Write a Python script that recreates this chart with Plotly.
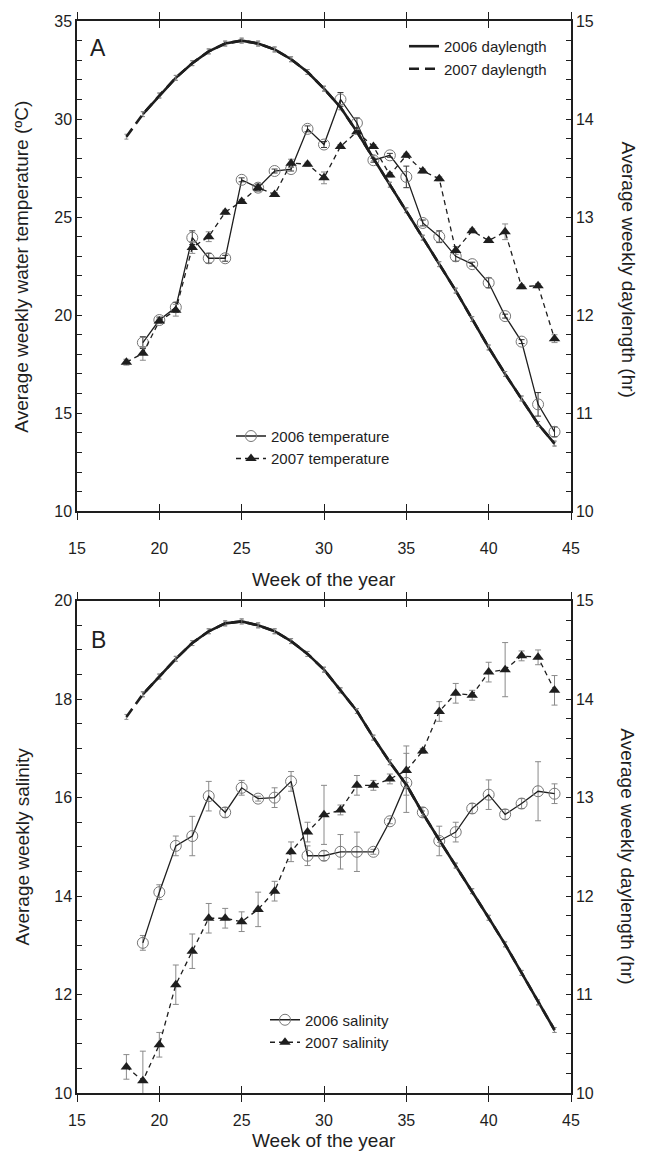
import plotly.graph_objects as go

# ---------------- data ----------------
weeks_2006 = list(range(19, 45))
weeks_2007 = list(range(18, 45))

# Panel A: water temperature (degC)
temp_2006 = [18.6, 19.75, 20.4, 23.95, 22.9, 22.9, 26.9, 26.5, 27.35, 27.45, 29.5, 28.7, 31.0,
             29.8, 27.9, 28.15, 27.05, 24.7, 24.0, 23.0, 22.6, 21.65, 19.95, 18.65, 15.45, 14.05]
temp_2006_err = [0.3, 0.15, 0.25, 0.35, 0.25, 0.15, 0.1, 0.15, 0.1, 0.1, 0.15, 0.15, 0.35,
                 0.25, 0.1, 0.1, 0.55, 0.15, 0.3, 0.25, 0.1, 0.25, 0.1, 0.1, 0.6, 0.25]
temp_2007 = [17.6, 18.05, 19.7, 20.25, 23.45, 24.0, 25.25, 25.8, 26.5, 26.15, 27.75, 27.7, 27.0,
             28.6, 29.35, 28.6, 27.15, 28.15, 27.35, 26.95, 23.3, 24.3, 23.8, 24.25, 21.45, 21.5, 18.8]
temp_2007_err = [0.15, 0.35, 0.1, 0.3, 0.3, 0.25, 0.1, 0.1, 0.2, 0.1, 0.2, 0.1, 0.3,
                 0.1, 0.1, 0.1, 0.1, 0.1, 0.1, 0.1, 0.2, 0.1, 0.1, 0.4, 0.1, 0.1, 0.2]

# Panel A: daylength (hr), weeks 18-44
day_a = [13.82, 14.05, 14.24, 14.42, 14.57, 14.69, 14.77, 14.80, 14.77, 14.71, 14.61, 14.48, 14.31,
         14.12, 13.87, 13.60, 13.33, 13.07, 12.79, 12.52, 12.25, 11.96, 11.67, 11.40, 11.15, 10.89, 10.69]

# Panel B: salinity
sal_2006 = [13.05, 14.08, 15.02, 15.22, 16.03, 15.7, 16.2, 15.98, 16.0, 16.33, 14.82, 14.82, 14.9,
            14.9, 14.9, 15.52, 16.3, 15.7, 15.12, 15.3, 15.78, 16.06, 15.66, 15.88, 16.13, 16.08]
sal_2006_err = [0.15, 0.15, 0.2, 0.4, 0.3, 0.1, 0.15, 0.05, 0.2, 0.2, 0.2, 0.1, 0.35,
                0.4, 0.05, 0.05, 0.6, 0.1, 0.3, 0.2, 0.1, 0.3, 0.1, 0.1, 0.6, 0.2]
sal_2007 = [10.53, 10.25, 10.98, 12.2, 12.88, 13.55, 13.55, 13.48, 13.73, 14.1, 14.9, 15.3, 15.65,
            15.75, 16.25, 16.25, 16.38, 16.55, 16.95, 17.75, 18.12, 18.08, 18.55, 18.6, 18.88, 18.85, 18.18]
sal_2007_err = [0.25, 0.6, 0.25, 0.4, 0.35, 0.3, 0.2, 0.2, 0.35, 0.2, 0.2, 0.2, 0.6,
                0.1, 0.2, 0.1, 0.1, 0.5, 0.05, 0.2, 0.2, 0.1, 0.2, 0.55, 0.1, 0.15, 0.3]

# Panel B: daylength (hr), weeks 18-44
day_b = [13.82, 14.05, 14.23, 14.41, 14.57, 14.69, 14.77, 14.79, 14.75, 14.69, 14.59, 14.46, 14.30,
         14.09, 13.88, 13.61, 13.36, 13.13, 12.84, 12.57, 12.31, 12.05, 11.78, 11.51, 11.22, 10.92, 10.64]
day_err = [0.025] * 27

week_ticks = [15, 20, 25, 30, 35, 40, 45]

# ---------------- styling ----------------
FONT = "Liberation Sans, Arial, sans-serif"
INK = "#1e1e1e"
ERR = "#8a8a8a"

def err(vals, color=ERR, w=3):
    return dict(type="data", array=vals, visible=True, color=color, thickness=1, width=w)

fig = go.Figure()

# ---- Panel A ----
fig.add_trace(go.Scatter(x=weeks_2006, y=day_a[1:], xaxis="x", yaxis="y2", mode="lines",
                         name="2006 daylength", line=dict(color=INK, width=2.6),
                         error_y=err(day_err[1:], w=2), legend="legend"))
fig.add_trace(go.Scatter(x=weeks_2007, y=day_a, xaxis="x", yaxis="y2", mode="lines",
                         name="2007 daylength", line=dict(color=INK, width=2.6, dash="10px,6px"),
                         error_y=err(day_err, w=2), legend="legend"))
fig.add_trace(go.Scatter(x=weeks_2006, y=temp_2006, xaxis="x", yaxis="y", mode="lines+markers",
                         name="2006 temperature", line=dict(color=INK, width=1.3),
                         marker=dict(symbol="circle-open", size=11, color="#777", line=dict(width=1)),
                         error_y=err(temp_2006_err, color="#333", w=3), legend="legend2"))
fig.add_trace(go.Scatter(x=weeks_2007, y=temp_2007, xaxis="x", yaxis="y", mode="lines+markers",
                         name="2007 temperature", line=dict(color=INK, width=1.3, dash="5px,4px"),
                         marker=dict(symbol="triangle-up", size=10, color=INK),
                         error_y=err(temp_2007_err), legend="legend2"))

# ---- Panel B ----
fig.add_trace(go.Scatter(x=weeks_2006, y=day_b[1:], xaxis="x2", yaxis="y4", mode="lines",
                         name="2006 daylength", line=dict(color=INK, width=2.6),
                         error_y=err(day_err[1:], w=2), showlegend=False))
fig.add_trace(go.Scatter(x=weeks_2007, y=day_b, xaxis="x2", yaxis="y4", mode="lines",
                         name="2007 daylength", line=dict(color=INK, width=2.6, dash="10px,6px"),
                         error_y=err(day_err, w=2), showlegend=False))
fig.add_trace(go.Scatter(x=weeks_2006, y=sal_2006, xaxis="x2", yaxis="y3", mode="lines+markers",
                         name="2006 salinity", line=dict(color=INK, width=1.3),
                         marker=dict(symbol="circle-open", size=11, color="#777", line=dict(width=1)),
                         error_y=err(sal_2006_err), legend="legend3"))
fig.add_trace(go.Scatter(x=weeks_2007, y=sal_2007, xaxis="x2", yaxis="y3", mode="lines+markers",
                         name="2007 salinity", line=dict(color=INK, width=1.3, dash="5px,4px"),
                         marker=dict(symbol="triangle-up", size=10, color=INK),
                         error_y=err(sal_2007_err), legend="legend3"))

# Placeholder traces so the overlay x-axes are drawn
fig.add_trace(go.Scatter(x=[None], y=[None], xaxis="x5", yaxis="y", showlegend=False))
fig.add_trace(go.Scatter(x=[None], y=[None], xaxis="x6", yaxis="y3", showlegend=False))

# ---------------- axes ----------------
TICKFONT = dict(family=FONT, size=16, color=INK)
line = dict(showline=True, linecolor=INK, linewidth=1.5, showgrid=False, zeroline=False)

def xax(anchor, overlay=None, standoff=0):
    d = dict(range=[15, 45], tickvals=week_ticks, ticks="inside", ticklen=7, tickwidth=1.3,
             tickcolor=INK, mirror="ticks", anchor=anchor, tickfont=TICKFONT,
             ticklabelstandoff=standoff, **line)
    if overlay:
        d.update(overlaying=overlay, ticks="outside", showticklabels=False)
    return d

def ylax(domain, rng, dtick, minor, anchor):
    return dict(domain=domain, range=rng, dtick=dtick, ticks="inside", ticklen=5, tickwidth=1.2,
                tickcolor=INK, anchor=anchor, tickfont=TICKFONT,
                minor=dict(ticks="inside", ticklen=5, dtick=minor, tickcolor=INK, tickwidth=1),
                **line)

def yrax(overlay, anchor):
    return dict(overlaying=overlay, side="right", range=[10, 15], dtick=1, ticks="inside",
                ticklen=5, tickwidth=1.2, tickcolor=INK, anchor=anchor, tickfont=TICKFONT,
                minor=dict(ticks="inside", ticklen=5, dtick=0.2, tickcolor=INK, tickwidth=1),
                **line)

dom_a = [0.5427, 1.0]
dom_b = [0.0, 0.4592]

def paper_pt(px, py):
    return (px - 77) / 494, (1093 - py) / 1078

LEGFONT = dict(family=FONT, size=15, color=INK)

def legend_at(px, py):
    xp, yp = paper_pt(px, py)
    return dict(x=xp, y=yp, xanchor="left", yanchor="top", bgcolor="rgba(0,0,0,0)",
                font=LEGFONT, tracegroupgap=0)

fig.update_layout(
    width=645, height=1152,
    margin=dict(l=77, r=74, t=15, b=59),
    paper_bgcolor="white", plot_bgcolor="white",
    font=dict(family=FONT, color=INK),
    xaxis=xax("y", standoff=22),
    xaxis5=xax("y", overlay="x"),
    xaxis2=xax("y3", standoff=12),
    xaxis6=xax("y3", overlay="x2"),
    yaxis=ylax(dom_a, [10, 35], 5, 1, "x"),
    yaxis2=yrax("y", "x"),
    yaxis3=ylax(dom_b, [10, 20], 2, 0.5, "x2"),
    yaxis4=yrax("y3", "x2"),
    legend=legend_at(404, 24),
    legend2=legend_at(231, 416),
    legend3=legend_at(265, 1003),
    showlegend=True,
)

TITLE = dict(family=FONT, size=19, color=INK)
annotations = []
for text, px, py in [("A", 98, 42), ("B", 98, 637)]:
    xp, yp = paper_pt(px, py)
    annotations.append(dict(text=text, x=xp, y=yp, xref="paper", yref="paper",
                            xanchor="center", yanchor="middle", showarrow=False,
                            font=dict(family=FONT, size=23, color=INK)))

for text, px, py, ang in [
    ("Week of the year", 324, 577, 0),
    ("Week of the year", 324, 1141, 0),
    ("Average weekly water temperature (ºC)", 22, 262, -90),
    ("Average weekly daylength (hr)", 628, 265, 90),
    ("Average weekly salinity", 22, 845, -90),
    ("Average weekly daylength (hr)", 628, 855, 90),
]:
    xp, yp = paper_pt(px, py)
    annotations.append(dict(text=text, x=xp, y=yp, xref="paper", yref="paper", xanchor="center",
                            yanchor="middle", textangle=ang, showarrow=False, font=TITLE))

fig.update_layout(annotations=annotations)

fig.write_html("out.html")
